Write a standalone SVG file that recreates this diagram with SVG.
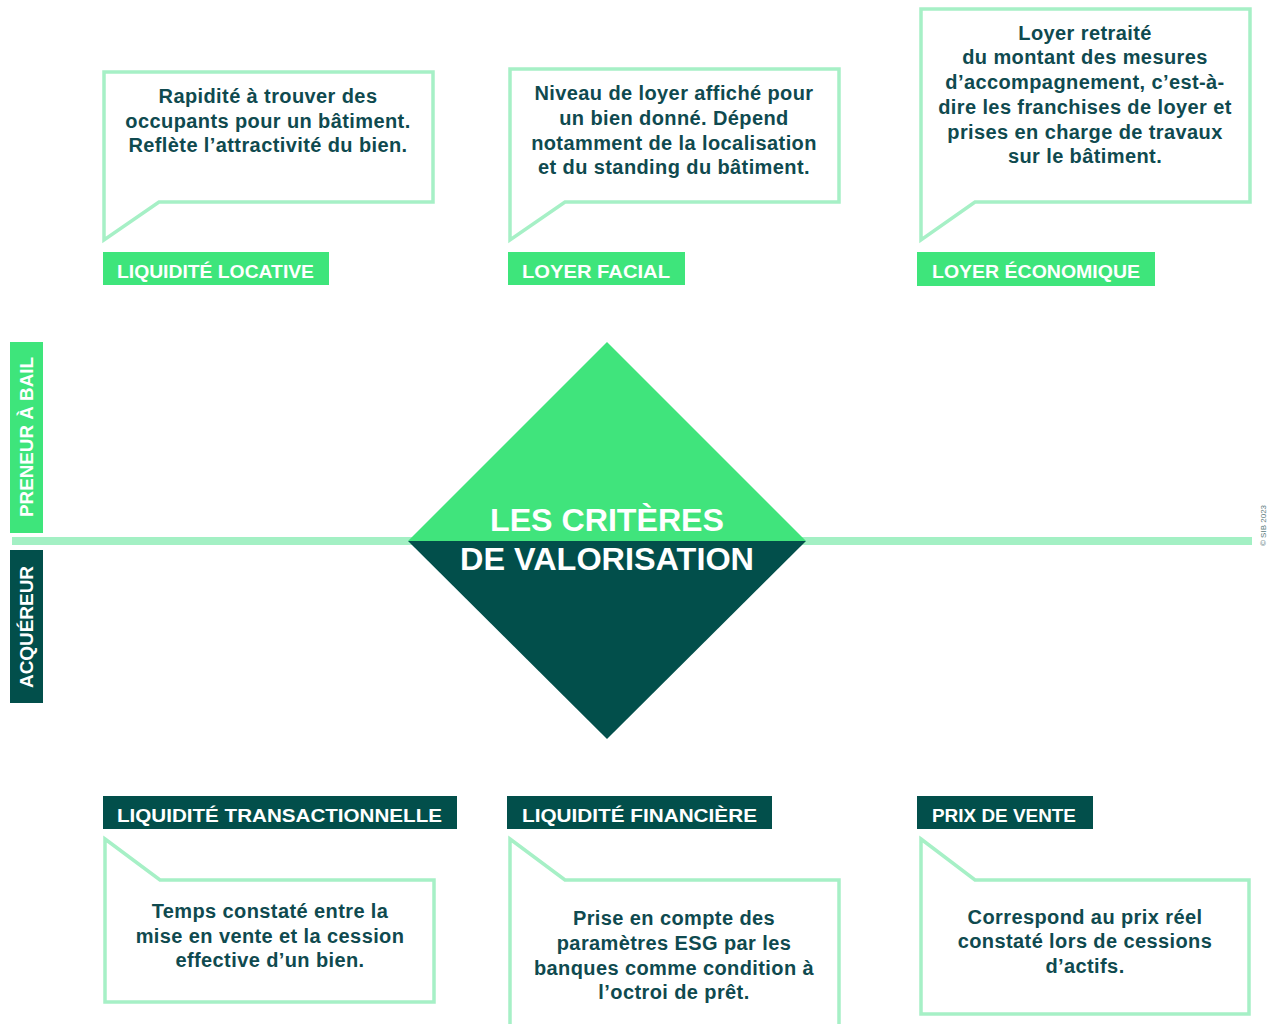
<svg xmlns="http://www.w3.org/2000/svg" width="1268" height="1024" viewBox="0 0 1268 1024">
  <style>
    .bubble { fill: #ffffff; stroke: #a6f0c6; stroke-width: 3.5; stroke-linejoin: miter; }
    .body { font-family: "Liberation Sans", Arial, sans-serif; font-weight: bold; font-size: 20px; letter-spacing: 0.4px; fill: #0f4a4f; text-anchor: middle; }
    .tag-light { fill: #3ee57b; }
    .tag-dark { fill: #024f4b; }
    .tag-text { font-family: "Liberation Sans", Arial, sans-serif; font-weight: bold; font-size: 19px; fill: #ffffff; }
    .side-text { font-family: "Liberation Sans", Arial, sans-serif; font-weight: bold; font-size: 18px; fill: #ffffff; text-anchor: middle; }
    .title { font-family: "Liberation Sans", Arial, sans-serif; font-weight: bold; font-size: 32px; fill: #ffffff; text-anchor: middle; }
  </style>
  <rect width="1268" height="1024" fill="#ffffff"/>

  <!-- horizontal axis -->
  <g id="connectors">
    <line x1="12" y1="541" x2="1252" y2="541" stroke="#a3f0c4" stroke-width="8"/>
  </g>

  <!-- side axis labels -->
  <g id="preneur">
    <rect x="10" y="342" width="33" height="191" class="tag-light"/>
    <text class="side-text" transform="translate(33,437) rotate(-90)" textLength="160" lengthAdjust="spacingAndGlyphs">PRENEUR À BAIL</text>
  </g>
  <g id="acquereur">
    <rect x="10" y="550" width="33" height="153" class="tag-dark"/>
    <text class="side-text" transform="translate(33,627) rotate(-90)" textLength="122" lengthAdjust="spacingAndGlyphs">ACQUÉREUR</text>
  </g>

  <!-- central diamond -->
  <g id="centre">
    <polygon points="607,342 806,541 408,541" fill="#40e47c"/>
    <polygon points="408,541 806,541 607,739" fill="#024f4b"/>
    <text class="title" x="607" y="531" textLength="234" lengthAdjust="spacingAndGlyphs">LES CRITÈRES</text>
    <text class="title" x="607" y="570" textLength="294" lengthAdjust="spacingAndGlyphs">DE VALORISATION</text>
  </g>

  <!-- top row -->
  <g id="liquidite-locative">
    <path class="bubble" d="M104,240 L104,72 L433,72 L433,202 L159,202 Z"/>
    <text class="body" x="268" y="103">Rapidité à trouver des</text>
    <text class="body" x="268" y="128">occupants pour un bâtiment.</text>
    <text class="body" x="268" y="152">Reflète l’attractivité du bien.</text>
    <rect x="103" y="252" width="226" height="33" class="tag-light"/>
    <text class="tag-text" x="117" y="278" textLength="197" lengthAdjust="spacingAndGlyphs">LIQUIDITÉ LOCATIVE</text>
  </g>

  <g id="loyer-facial">
    <path class="bubble" d="M510,240 L510,69 L839,69 L839,202 L565,202 Z"/>
    <text class="body" x="674" y="100">Niveau de loyer affiché pour</text>
    <text class="body" x="674" y="125">un bien donné. Dépend</text>
    <text class="body" x="674" y="150">notamment de la localisation</text>
    <text class="body" x="674" y="174">et du standing du bâtiment.</text>
    <rect x="508" y="252" width="177" height="33" class="tag-light"/>
    <text class="tag-text" x="522" y="278" textLength="148" lengthAdjust="spacingAndGlyphs">LOYER FACIAL</text>
  </g>

  <g id="loyer-economique">
    <path class="bubble" d="M921,240 L921,9 L1250,9 L1250,202 L975,202 Z"/>
    <text class="body" x="1085" y="40">Loyer retraité</text>
    <text class="body" x="1085" y="64">du montant des mesures</text>
    <text class="body" x="1085" y="89">d’accompagnement, c’est-à-</text>
    <text class="body" x="1085" y="114">dire les franchises de loyer et</text>
    <text class="body" x="1085" y="139">prises en charge de travaux</text>
    <text class="body" x="1085" y="163">sur le bâtiment.</text>
    <rect x="917" y="252" width="238" height="34" class="tag-light"/>
    <text class="tag-text" x="932" y="278" textLength="208" lengthAdjust="spacingAndGlyphs">LOYER ÉCONOMIQUE</text>
  </g>

  <!-- bottom row -->
  <g id="liquidite-transactionnelle">
    <rect x="103" y="796" width="354" height="33" class="tag-dark"/>
    <text class="tag-text" x="117" y="822" textLength="325" lengthAdjust="spacingAndGlyphs">LIQUIDITÉ TRANSACTIONNELLE</text>
    <path class="bubble" d="M105,839 L160,880 L434,880 L434,1002 L105,1002 Z"/>
    <text class="body" x="270" y="918">Temps constaté entre la</text>
    <text class="body" x="270" y="943">mise en vente et la cession</text>
    <text class="body" x="270" y="967">effective d’un bien.</text>
  </g>

  <g id="liquidite-financiere">
    <rect x="507" y="796" width="265" height="33" class="tag-dark"/>
    <text class="tag-text" x="522" y="822" textLength="235" lengthAdjust="spacingAndGlyphs">LIQUIDITÉ FINANCIÈRE</text>
    <path class="bubble" d="M510,839 L565,880 L839,880 L839,1030 L510,1030 Z"/>
    <text class="body" x="674" y="925">Prise en compte des</text>
    <text class="body" x="674" y="950">paramètres ESG par les</text>
    <text class="body" x="674" y="975">banques comme condition à</text>
    <text class="body" x="674" y="999">l’octroi de prêt.</text>
  </g>

  <g id="prix-de-vente">
    <rect x="917" y="796" width="176" height="33" class="tag-dark"/>
    <text class="tag-text" x="932" y="822" textLength="144" lengthAdjust="spacingAndGlyphs">PRIX DE VENTE</text>
    <path class="bubble" d="M921,839 L975,880 L1249,880 L1249,1014 L921,1014 Z"/>
    <text class="body" x="1085" y="924">Correspond au prix réel</text>
    <text class="body" x="1085" y="948">constaté lors de cessions</text>
    <text class="body" x="1085" y="973">d’actifs.</text>
  </g>

  <!-- credit along the right edge -->
  <text transform="translate(1266,546) rotate(-90)" font-family="'Liberation Sans', Arial, sans-serif" font-size="8" fill="#5a7a7c">© SIB 2023</text>
</svg>
